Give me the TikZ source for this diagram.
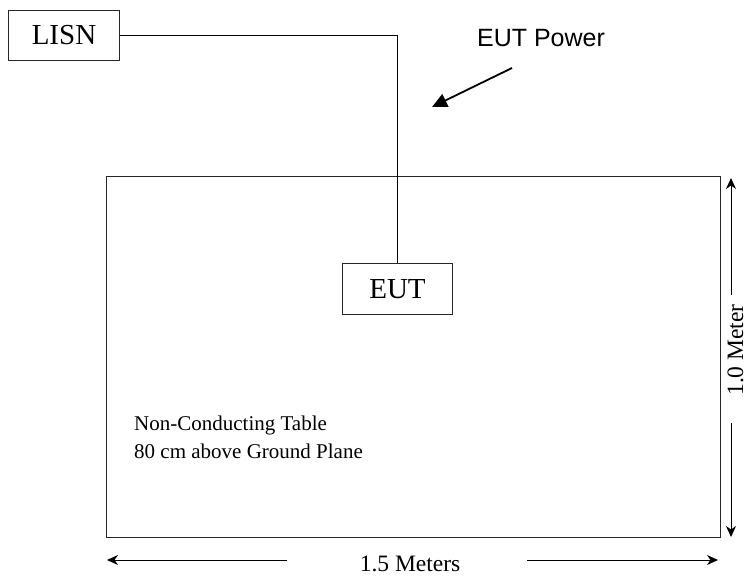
\documentclass[tikz,border=0pt]{standalone}
\usepackage{fontspec}
\setmainfont{Liberation Serif}
\newfontfamily\powerfont{Liberation Sans}
\usetikzlibrary{calc, positioning}
\usetikzlibrary{arrows.meta}

\tikzset{
  boxNode/.style={draw=black!85, line width=1pt, minimum width=111pt, minimum height=50pt,
    inner sep=0pt, font=\fontsize{29}{34}\selectfont},
  dimLine/.style={line width=1pt, -{Stealth[length=11pt, width=10pt, inset=3.5pt]}},
  dimText/.style={inner sep=0pt, font=\fontsize{23.5}{28}\selectfont},
  noteText/.style={inner sep=0pt, anchor=base west, font=\fontsize{21}{28}\selectfont}
}

\begin{document}
\begin{tikzpicture}[x=1pt, y=-1pt]
\useasboundingbox (0,0) rectangle (747,577);
\coordinate (VTop) at (731,178);
\coordinate (VBot) at (731,537);
\coordinate (VGapTop) at (731,295);
\coordinate (VGapBot) at (731,423);
\coordinate (HLeft) at (107,560);
\coordinate (HRight) at (718,560);
\coordinate (HGapLeft) at (287,560);
\coordinate (HGapRight) at (527,560);
\coordinate (PowerTail) at (512,68);
\coordinate (PowerTip) at (432,107);

\node[draw=black!85, line width=1pt, minimum width=614pt, minimum height=360pt, inner sep=0pt]
  (Table) at (413,357) {};
\node[boxNode, anchor=north west] (LISN) at (8,10) {LISN};
\node[boxNode, minimum width=110pt, minimum height=51pt, anchor=north west] (EUT) at (342,263) {EUT};

\draw[line width=1pt] (LISN.east) -| (EUT.north);

\node[inner sep=0pt, anchor=base, font=\powerfont\fontsize{25}{30}\selectfont] (PowerLabel) at (541,47) {EUT Power};
\draw[-{Triangle[length=15pt, width=14pt]}, line width=1.8pt] (PowerTail) -- (PowerTip);

\node[noteText] (NoteOne) at (134,430) {Non-Conducting Table};
\node[noteText] (NoteTwo) at (134,458) {80 cm above Ground Plane};

\node[dimText, anchor=base, rotate=90] (VLabel) at (743,350) {1.0 Meter};
\draw[dimLine] (VGapTop) -- (VTop);
\draw[dimLine] (VGapBot) -- (VBot);

\node[dimText, anchor=base] (HLabel) at (410,571) {1.5 Meters};
\draw[dimLine] (HGapLeft) -- (HLeft);
\draw[dimLine] (HGapRight) -- (HRight);
\end{tikzpicture}
\end{document}
